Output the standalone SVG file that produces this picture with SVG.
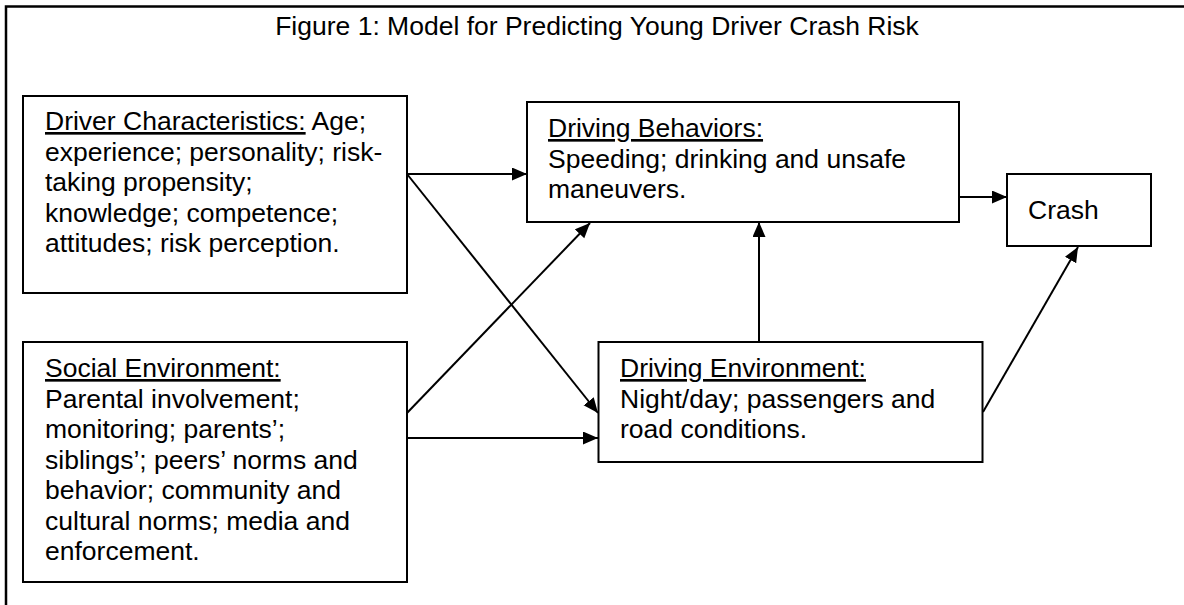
<svg xmlns="http://www.w3.org/2000/svg" width="1184" height="605" viewBox="0 0 1184 605">
<style>
text{font-family:"Liberation Sans",Arial,sans-serif;font-size:26.5px;fill:#000}
.box{fill:#fff;stroke:#000;stroke-width:2}
.u{text-decoration:underline}
.c{fill:none;stroke:#000;stroke-width:2}
</style>
<defs>
<marker id="ah" markerUnits="userSpaceOnUse" markerWidth="16" markerHeight="14" refX="15" refY="6.5" orient="auto">
<path d="M0,0 L15,6.5 L0,13 z" fill="#000"/>
</marker>
</defs>
<rect width="1184" height="605" fill="#fff"/>
<path d="M6,700 V6.5 H1200" fill="none" stroke="#000" stroke-width="2.5"/>
<text x="597" y="35" text-anchor="middle">Figure 1: Model for Predicting Young Driver Crash Risk</text>
<g id="connectors">
<path class="c" d="M407,174 H527" marker-end="url(#ah)"/>
<path class="c" d="M407,174 L598,413" marker-end="url(#ah)"/>
<path class="c" d="M407,413 L590,223" marker-end="url(#ah)"/>
<path class="c" d="M407,438 H598" marker-end="url(#ah)"/>
<path class="c" d="M759,342 V222" marker-end="url(#ah)"/>
<path class="c" d="M959,197 H1007" marker-end="url(#ah)"/>
<path class="c" d="M983,412 L1078,247" marker-end="url(#ah)"/>
</g>
<g id="driver">
<rect class="box" x="23" y="96" width="384" height="197"/>
<text x="45" y="130"><tspan class="u">Driver Characteristics:</tspan> Age;</text>
<text x="45" y="160.5">experience; personality; risk-</text>
<text x="45" y="191">taking propensity;</text>
<text x="45" y="221.5">knowledge; competence;</text>
<text x="45" y="252">attitudes; risk perception.</text>
</g>
<g id="social">
<rect class="box" x="23" y="342" width="384" height="240"/>
<text x="45" y="377"><tspan class="u">Social Environment:</tspan></text>
<text x="45" y="407.5">Parental involvement;</text>
<text x="45" y="438">monitoring; parents’;</text>
<text x="45" y="468.5">siblings’; peers’ norms and</text>
<text x="45" y="499">behavior; community and</text>
<text x="45" y="529.5">cultural norms; media and</text>
<text x="45" y="560">enforcement.</text>
</g>
<g id="behaviors">
<rect class="box" x="527" y="102" width="432" height="120"/>
<text x="548" y="137"><tspan class="u">Driving Behaviors:</tspan></text>
<text x="548" y="167.5">Speeding; drinking and unsafe</text>
<text x="548" y="198">maneuvers.</text>
</g>
<g id="environment">
<rect class="box" x="598.5" y="342" width="384" height="120"/>
<text x="620" y="377"><tspan class="u">Driving Environment:</tspan></text>
<text x="620" y="407.5">Night/day; passengers and</text>
<text x="620" y="438">road conditions.</text>
</g>
<g id="crash">
<rect class="box" x="1007" y="174" width="144" height="72"/>
<text x="1028" y="219">Crash</text>
</g>
</svg>
